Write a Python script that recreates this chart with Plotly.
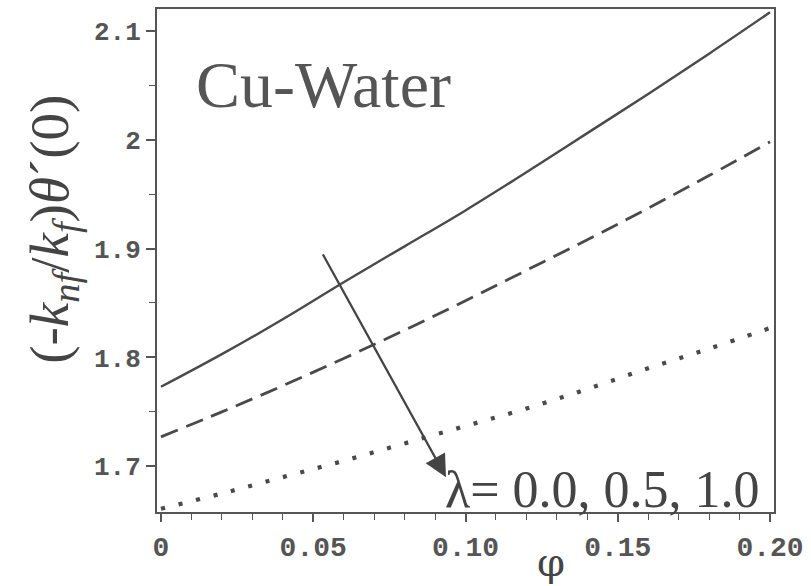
import plotly.graph_objects as go

# Volume fraction of nanoparticles
phi = [0.00, 0.02, 0.04, 0.06, 0.08, 0.10, 0.12, 0.14, 0.16, 0.18, 0.20]

# Reduced Nusselt number (-k_nf/k_f) theta'(0) for lambda = 0.0, 0.5, 1.0
nu_lam00 = [1.773, 1.803, 1.835, 1.869, 1.902, 1.935, 1.970, 2.006, 2.042, 2.079, 2.117]
nu_lam05 = [1.727, 1.750, 1.774, 1.799, 1.825, 1.852, 1.880, 1.908, 1.937, 1.967, 1.998]
nu_lam10 = [1.661, 1.675, 1.690, 1.705, 1.721, 1.737, 1.753, 1.771, 1.790, 1.808, 1.827]

x_ticks = [0.0, 0.05, 0.10, 0.15, 0.20]
x_ticktext = ["<b>0</b>", "<b>0.05</b>", "<b>0.10</b>", "<b>0.15</b>", "<b>0.20</b>"]
y_ticks = [1.7, 1.8, 1.9, 2.0, 2.1]
y_ticktext = ["<b>1.7</b>", "<b>1.8</b>", "<b>1.9</b>", "<b>2</b>", "<b>2.1</b>"]

INK = "#555555"
LINE = "#4a4a4a"

fig = go.Figure()
fig.add_trace(go.Scatter(x=phi, y=nu_lam00, mode="lines", line_shape="spline",
                         line=dict(color=LINE, width=2.4, dash="solid"),
                         name="λ = 0.0"))
fig.add_trace(go.Scatter(x=phi, y=nu_lam05, mode="lines", line_shape="spline",
                         line=dict(color=LINE, width=2.8, dash="18px,9px"),
                         name="λ = 0.5"))
fig.add_trace(go.Scatter(x=phi, y=nu_lam10, mode="lines", line_shape="spline",
                         line=dict(color=LINE, width=4.2, dash="4px,14px"),
                         name="λ = 1.0"))

axis_common = dict(
    showline=True, linecolor=INK, linewidth=2, mirror=True,
    showgrid=False, zeroline=False,
    ticks="outside", tickcolor=INK, tickwidth=1.5,
)

fig.update_xaxes(
    range=[-0.0013, 0.2013], tickvals=x_ticks, ticktext=x_ticktext, ticklen=8,
    tickfont=dict(family="Liberation Mono", size=28, color=INK),
    minor=dict(dtick=0.01, tick0=0, ticks="outside", ticklen=6,
               tickcolor=INK, tickwidth=1.2),
    **axis_common,
)
fig.update_yaxes(
    range=[1.658, 2.120], tickvals=y_ticks, ticktext=y_ticktext, ticklen=9,
    tickfont=dict(family="Liberation Mono", size=26, color=INK),
    minor=dict(dtick=0.05, tick0=1.65, ticks="outside", ticklen=6,
               tickcolor=INK, tickwidth=1.2),
    **axis_common,
)

# Arrow showing the direction of increasing lambda
fig.add_annotation(x=0.0936, y=1.690, ax=0.0529, ay=1.896,
                   xref="x", yref="y", axref="x", ayref="y",
                   text="", showarrow=True, arrowhead=2, arrowsize=2.0,
                   arrowwidth=2.2, arrowcolor="#444444")

fig.add_annotation(x=0.0925, y=1.679, xref="x", yref="y",
                   text="λ= 0.0, 0.5, 1.0", showarrow=False,
                   xanchor="left", yanchor="middle",
                   font=dict(family="Liberation Serif", size=52, color="#444444"))

fig.add_annotation(x=0.011, y=2.051, xref="x", yref="y",
                   text="Cu-Water", showarrow=False,
                   xanchor="left", yanchor="middle",
                   font=dict(family="Liberation Serif", size=66, color="#555555"))

# Axis titles, placed in pixel space via paper fractions
pw = 811 - 157 - 33
ph = 586 - 7 - 74
fig.add_annotation(x=(52 - 157) / pw, y=(586 - 74 - 228) / ph,
                   xref="paper", yref="paper",
                   xanchor="center", yanchor="middle",
                   text="(-<i>k</i><sub><i>nf</i></sub>/<i>k</i><sub><i>f</i></sub>)<i>θ</i>´(0)",
                   showarrow=False, textangle=-90,
                   font=dict(family="Liberation Serif", size=55, color="#444444"))
fig.add_annotation(x=0.128, y=(586 - 74 - 562) / ph, xref="x", yref="paper",
                   text="φ", showarrow=False, yanchor="middle",
                   font=dict(family="DejaVu Serif", size=40, color="#444444"))

fig.update_layout(
    width=811, height=586,
    margin=dict(l=157, r=33, t=7, b=74),
    paper_bgcolor="white", plot_bgcolor="white",
    showlegend=False,
)

fig.write_html("out.html")
